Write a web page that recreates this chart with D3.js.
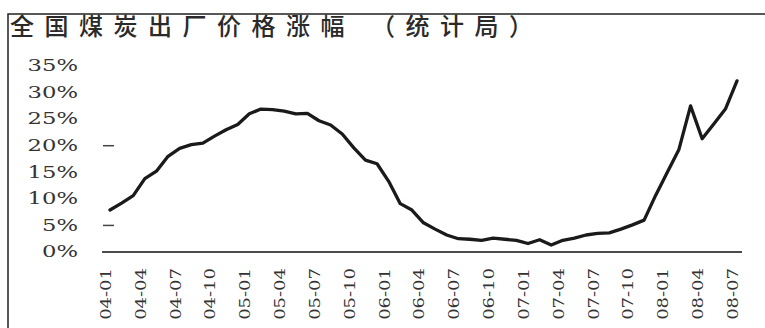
<!DOCTYPE html>
<html>
<head>
<meta charset="utf-8">
<script src="https://cdn.jsdelivr.net/npm/d3@7/dist/d3.min.js"></script>
<style>
  html, body { margin: 0; padding: 0; background: #fff; }
  svg { display: block; }
</style>
</head>
<body>
<svg id="chart" width="765" height="328"></svg>
<script>
// Monthly coal ex-factory price growth, Jan 2004 – Jul 2008 (%)
const months = [
  "04-01","04-02","04-03","04-04","04-05","04-06","04-07","04-08","04-09","04-10","04-11","04-12",
  "05-01","05-02","05-03","05-04","05-05","05-06","05-07","05-08","05-09","05-10","05-11","05-12",
  "06-01","06-02","06-03","06-04","06-05","06-06","06-07","06-08","06-09","06-10","06-11","06-12",
  "07-01","07-02","07-03","07-04","07-05","07-06","07-07","07-08","07-09","07-10","07-11","07-12",
  "08-01","08-02","08-03","08-04","08-05","08-06","08-07"
];
const growth = [
  7.9, 9.2, 10.6, 13.8, 15.2, 18.0, 19.5, 20.2, 20.5, 21.8, 23.0, 24.0,
  26.0, 26.9, 26.8, 26.5, 26.0, 26.1, 24.7, 23.9, 22.2, 19.6, 17.3, 16.6,
  13.3, 9.1, 7.9, 5.5, 4.3, 3.2, 2.5, 2.4, 2.2, 2.6, 2.4, 2.2,
  1.6, 2.3, 1.3, 2.2, 2.6, 3.2, 3.5, 3.6, 4.3, 5.1, 6.0, 10.7,
  15.0, 19.3, 27.5, 21.3, 24.1, 26.9, 32.2
];
const tickLabels = ["04-01","04-04","04-07","04-10","05-01","05-04","05-07","05-10","06-01","06-04",
                    "06-07","06-10","07-01","07-04","07-07","07-10","08-01","08-04","08-07"];
const yTicks = [0, 5, 10, 15, 20, 25, 30, 35];
const stubTicks = [5, 20];
const title = "全国煤炭出厂价格涨幅 （统计局）";

const svg = d3.select("#chart");

const x = d3.scalePoint().domain(months).range([110, 737]);
const y = d3.scaleLinear().domain([0, 35]).range([252, 66]);

// frame (top and left edges)
svg.append("path")
  .attr("d", "M8,328V14H765")
  .attr("fill", "none")
  .attr("stroke", "#222")
  .attr("stroke-width", 1.5);

// title
svg.append("text")
  .attr("x", 10)
  .attr("y", 35)
  .attr("font-family", "'Noto Sans CJK SC', sans-serif")
  .attr("font-size", 24)
  .attr("font-weight", 500)
  .attr("letter-spacing", 10.5)
  .attr("fill", "#2a2a2a")
  .text(title);

// y axis labels (wide serif digits)
svg.append("g")
  .selectAll("text")
  .data(yTicks)
  .join("text")
  .attr("transform", d => `translate(78,${y(d)}) scale(1.42,1)`)
  .attr("text-anchor", "end")
  .attr("dominant-baseline", "central")
  .attr("font-family", "'DejaVu Serif', serif")
  .attr("font-size", 16)
  .attr("fill", "#333")
  .text(d => d + "%");

// short stub ticks
svg.append("g")
  .selectAll("line")
  .data(stubTicks)
  .join("line")
  .attr("x1", 103).attr("x2", 114)
  .attr("y1", d => y(d)).attr("y2", d => y(d))
  .attr("stroke", "#444")
  .attr("stroke-width", 1.5);

// x axis baseline
svg.append("line")
  .attr("x1", 102).attr("x2", 742)
  .attr("y1", y(0)).attr("y2", y(0))
  .attr("stroke", "#111")
  .attr("stroke-width", 1.5);

// x axis labels, rotated to read upward
svg.append("g")
  .selectAll("text")
  .data(tickLabels)
  .join("text")
  .attr("transform", d => `translate(${x(d) - 4},268) rotate(-90) scale(1.2,1)`)
  .attr("text-anchor", "end")
  .attr("dominant-baseline", "central")
  .attr("font-family", "'DejaVu Serif', serif")
  .attr("font-size", 15)
  .attr("fill", "#333")
  .text(d => d);

// growth line
const line = d3.line()
  .x((d, i) => x(months[i]))
  .y(d => y(d));

svg.append("path")
  .datum(growth)
  .attr("d", line)
  .attr("fill", "none")
  .attr("stroke", "#1a1a1a")
  .attr("stroke-width", 3.3)
  .attr("stroke-linejoin", "round")
  .attr("stroke-linecap", "round");
</script>
</body>
</html>
